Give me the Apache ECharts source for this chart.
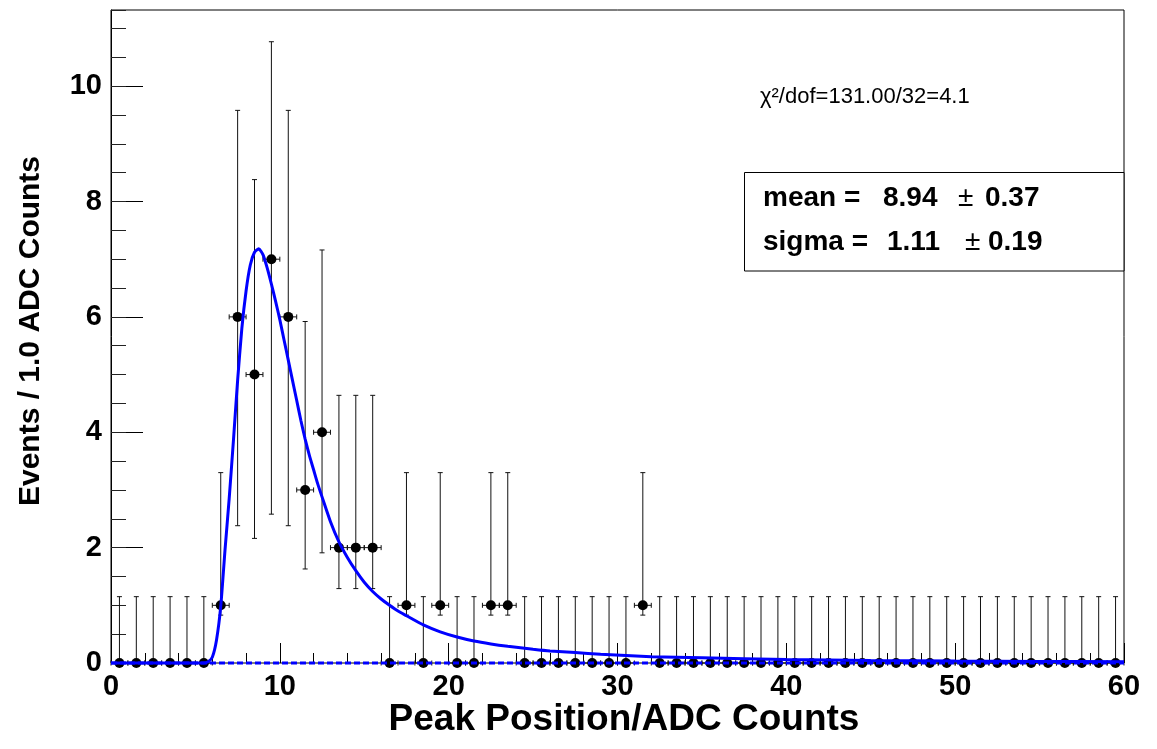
<!DOCTYPE html>
<html><head><meta charset="utf-8">
<script src="https://cdn.jsdelivr.net/npm/echarts@6/dist/echarts.min.js"></script>
<style>html,body{margin:0;padding:0;background:#fff}#c{width:1157px;height:749px}</style>
</head><body><div id="c"></div>
<script>
// ---- data ----
const binCenters = [0.5,1.5,2.5,3.5,4.5,5.5,6.5,7.5,8.5,9.5,10.5,11.5,12.5,13.5,14.5,15.5,16.5,17.5,18.5,19.5,
  20.5,21.5,22.5,23.5,24.5,25.5,26.5,27.5,28.5,29.5,30.5,31.5,32.5,33.5,34.5,35.5,36.5,37.5,38.5,39.5,
  40.5,41.5,42.5,43.5,44.5,45.5,46.5,47.5,48.5,49.5,50.5,51.5,52.5,53.5,54.5,55.5,56.5,57.5,58.5,59.5];
const counts = [0,0,0,0,0,0,1,6,5,7,6,3,4,2,2,2,0,1,0,1,
  0,0,1,1,0,0,0,0,0,0,0,1,0,0,0,0,0,0,0,0,
  0,0,0,0,0,0,0,0,0,0,0,0,0,0,0,0,0,0,0,0];
// asymmetric (Poisson) error sizes, indexed by bin count
const errLowByCount  = [0, 0.17, 0.71, 1.37, 2.09, 2.84, 3.62, 4.42];
const errHighByCount = [1.15, 2.30, 2.64, 2.92, 3.16, 3.38, 3.58, 3.77];
const binHalfWidth = 0.5;
// fitted curve
const fitX = [0,5.0,5.5,5.75,6.0,6.25,6.5,6.75,7.0,7.25,7.5,7.75,8.0,8.25,8.5,8.75,9.0,9.25,9.5,9.75,10.0,10.25,10.5,10.75,11.0,11.25,11.5,11.75,12.0,12.25,12.5,13.0,13.5,14.0,14.5,15.0,15.5,16.0,16.5,17.0,17.5,18.5,19.5,20.5,21.5,22.5,23.5,25,26,27.5,29,32,35,40,45,50,55,60];
const fitY = [0,0,0,0.02,0.1,0.4,0.98,1.95,2.85,3.85,4.9,5.8,6.45,6.9,7.12,7.18,7.08,6.85,6.57,6.27,5.95,5.6,5.25,4.9,4.55,4.2,3.88,3.6,3.35,3.1,2.88,2.45,2.1,1.83,1.6,1.4,1.24,1.11,1.0,0.9,0.82,0.66,0.54,0.45,0.38,0.33,0.29,0.24,0.21,0.18,0.15,0.11,0.09,0.06,0.045,0.035,0.028,0.022];
const zeroLineX = [0,60];
const zeroLineY = [0,0];
const xTicks = {min:0,max:60,major:10,minor:2};
const yTicks = {min:0,max:11.32,major:2,minor:0.5};
const chi2Text = 'χ²/dof=131.00/32=4.1';
const paveRows = [['mean =','8.94','±','0.37'],['sigma =','1.11','±','0.19']];
const xTitle = 'Peak Position/ADC Counts';
const yTitle = 'Events / 1.0 ADC Counts';

// ---- build ----
const pts = binCenters.map((x,i)=>[x,counts[i]]);
const errData = binCenters.map((x,i)=>{
  const n = counts[i];
  return [x, n, n - errLowByCount[n], n + errHighByCount[n]];
});
const fitData = fitX.map((x,i)=>[x,fitY[i]]);
const zeroData = zeroLineX.map((x,i)=>[x,zeroLineY[i]]);

const FONT = '"Liberation Sans", Arial, Helvetica, sans-serif';
const chart = echarts.init(document.getElementById('c'), null, {renderer:'canvas'});
const grid = {left:111, right:33, top:10, bottom:86, show:true, borderColor:'#000', borderWidth:1, backgroundColor:'transparent', outerBoundsMode:'none', z:0};

function errItem(params, api){
  const x = api.value(0), y = api.value(1), lo = api.value(2), hi = api.value(3);
  const pL = api.coord([x-binHalfWidth, y]);
  const pR = api.coord([x+binHalfWidth, y]);
  const pB = api.coord([x, lo]);
  const pT = api.coord([x, hi]);
  const c = 2.5;
  const st = {stroke:'#111', lineWidth:1};
  const ch = [
    {type:'line', shape:{x1:pT[0],y1:pT[1],x2:pB[0],y2:pB[1]}, style:st},
    {type:'line', shape:{x1:pT[0]-c,y1:pT[1],x2:pT[0]+c,y2:pT[1]}, style:st},
    {type:'line', shape:{x1:pL[0],y1:pL[1],x2:pR[0],y2:pR[1]}, style:st},
    {type:'line', shape:{x1:pL[0],y1:pL[1]-c,x2:pL[0],y2:pL[1]+c}, style:st},
    {type:'line', shape:{x1:pR[0],y1:pR[1]-c,x2:pR[0],y2:pR[1]+c}, style:st}
  ];
  if (lo < y) ch.push({type:'line', shape:{x1:pB[0]-c,y1:pB[1],x2:pB[0]+c,y2:pB[1]}, style:st});
  return {type:'group', children:ch};
}

const labelStyle = {fontFamily:FONT, fontWeight:'bold', fontSize:29, color:'#000'};
const graphics = [
  {type:'text', x:31, y:331, rotation:Math.PI/2, style:{text:yTitle, font:'bold 30px '+FONT, fill:'#000', align:'center', verticalAlign:'middle'}},
  {type:'text', x:624, y:720, style:{text:xTitle, font:'bold 37px '+FONT, fill:'#000', align:'center', verticalAlign:'middle'}},
  {type:'text', x:760, y:97, style:{text:chi2Text, font:'22px '+FONT, fill:'#000', align:'left', verticalAlign:'middle'}},
  {type:'rect', shape:{x:744.5, y:172.5, width:379.5, height:98.5}, style:{fill:'#fff', stroke:'#000', lineWidth:1}, z:10}
];
const colX = [[763, 883, 958, 985],[763, 887, 965, 988]];
const rowY = [198, 242];
paveRows.forEach((row,r)=>{
  row.forEach((t,k)=>{
    graphics.push({type:'text', x:colX[r][k], y:rowY[r], z:11, style:{text:t, font:(k===2?'':'bold ')+'28px '+FONT, fill:'#000', align:'left', verticalAlign:'middle'}});
  });
});

chart.setOption({
  animation:false,
  backgroundColor:'#fff',
  grid: grid,
  xAxis:[
    {type:'value', min:xTicks.min, max:xTicks.max, interval:xTicks.major, position:'bottom', z:0,
     axisLine:{show:false, onZero:false},
     axisTick:{show:true, inside:true, length:20, lineStyle:{color:'#000', width:1}},
     axisLabel:{show:true, margin:9, ...labelStyle},
     splitLine:{show:false}},
    {type:'value', min:xTicks.min, max:xTicks.max, interval:xTicks.minor, position:'bottom', z:0,
     axisLine:{show:false, onZero:false},
     axisTick:{show:true, inside:true, length:10, lineStyle:{color:'#000', width:1}},
     axisLabel:{show:false}, splitLine:{show:false}}
  ],
  yAxis:[
    {type:'value', min:yTicks.min, max:yTicks.max, interval:yTicks.major, position:'left', z:0,
     axisLine:{show:true, onZero:false, lineStyle:{color:'#000', width:1}},
     axisTick:{show:true, inside:true, length:32, lineStyle:{color:'#000', width:1}},
     axisLabel:{show:true, margin:9, showMaxLabel:false, formatter:v=>String(Math.round(v)), ...labelStyle},
     splitLine:{show:false}},
    {type:'value', min:yTicks.min, max:yTicks.max, interval:yTicks.minor, position:'left', z:0,
     axisLine:{show:false, onZero:false},
     axisTick:{show:true, inside:true, length:15, lineStyle:{color:'#222', width:1}},
     axisLabel:{show:false}, splitLine:{show:false}}
  ],
  series:[
    {type:'custom', xAxisIndex:0, yAxisIndex:0, data:errData, renderItem:errItem, z:2, clip:false,
     encode:{x:0, y:[1,2,3]}},
    {type:'scatter', xAxisIndex:0, yAxisIndex:0, data:pts, symbol:'circle', symbolSize:10,
     itemStyle:{color:'#000', opacity:1}, z:3, clip:false},
    {type:'line', xAxisIndex:0, yAxisIndex:0, data:zeroData, showSymbol:false, symbol:'none', clip:false,
     lineStyle:{color:'#0000ff', width:3, type:[6,3], opacity:1}, z:6},
    {type:'line', xAxisIndex:0, yAxisIndex:0, data:fitData, showSymbol:false, symbol:'none', clip:false,
     smooth:0.2,
     lineStyle:{color:'#0000ff', width:3, opacity:1}, z:7}
  ],
  graphic: graphics
});
</script></body></html>
